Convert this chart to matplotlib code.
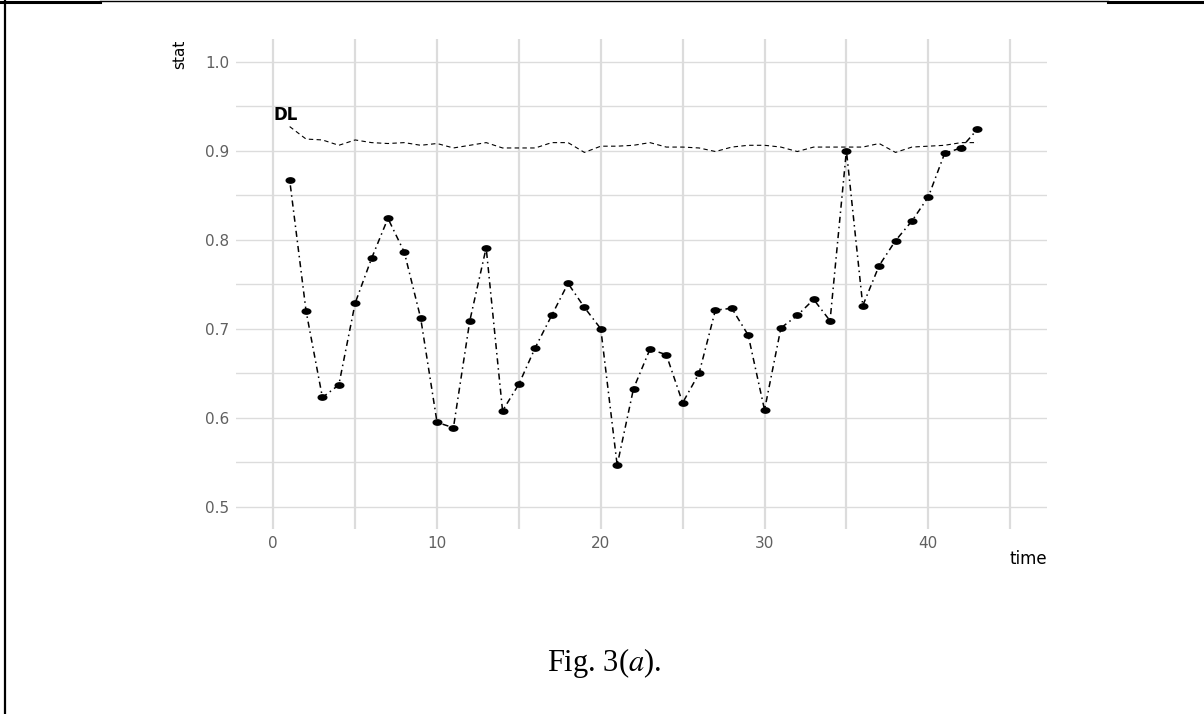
# 관리도 (stat vs time) 와 DL 선
import matplotlib.pyplot as plt
from matplotlib.path import Path
from matplotlib.lines import Line2D
import numpy as np

time = list(range(1, 44))
stat = [0.867, 0.720, 0.623, 0.637, 0.729, 0.779, 0.824, 0.786, 0.712, 0.595,
        0.589, 0.709, 0.791, 0.608, 0.638, 0.679, 0.715, 0.751, 0.724, 0.700,
        0.547, 0.633, 0.677, 0.671, 0.617, 0.650, 0.721, 0.723, 0.693, 0.609,
        0.701, 0.715, 0.733, 0.709, 0.900, 0.726, 0.771, 0.799, 0.821, 0.848,
        0.897, 0.903, 0.924]
dl = [0.927, 0.913, 0.912, 0.906, 0.912, 0.909, 0.908, 0.909, 0.906, 0.908,
      0.903, 0.906, 0.909, 0.903, 0.903, 0.903, 0.909, 0.909, 0.898, 0.905,
      0.905, 0.906, 0.909, 0.904, 0.904, 0.903, 0.899, 0.904, 0.906, 0.906,
      0.904, 0.899, 0.904, 0.904, 0.904, 0.904, 0.908, 0.898, 0.904, 0.905,
      0.906, 0.909, 0.909]
x_ticks = [0, 10, 20, 30, 40]
y_ticks = [0.5, 0.6, 0.7, 0.8, 0.9, 1.0]
y_tick_labels = ['0.5', '0.6', '0.7', '0.8', '0.9', '1.0']

fig = plt.figure(figsize=(12.04, 7.14), dpi=100)
ax = fig.add_axes([0.1964, 0.2587, 0.6732, 0.6863])

# 가로로 늘어난 원 모양 마커
t = np.linspace(0, 2 * np.pi, 40)
ellipse = Path(np.column_stack([np.cos(t), 0.62 * np.sin(t)]), closed=True)

ax.plot(time, dl, color='black', lw=0.8, linestyle=(0, (4, 3)), zorder=3)
ax.plot(time, stat, color='black', lw=1.1, linestyle=(0, (1, 2.5, 4, 2.5)),
        marker=ellipse, markersize=6.2, zorder=4)
ax.text(0, 0.940, 'DL', fontsize=12, fontweight='bold', ha='left', va='center')

ax.set_xlim(-2.25, 47.25)
ax.set_ylim(0.475, 1.025)
ax.set_xticks(x_ticks)
ax.set_xticks(np.arange(5, 50, 10), minor=True)
ax.set_yticks(y_ticks, y_tick_labels)
ax.set_yticks(np.arange(0.55, 1.0, 0.1), minor=True)
ax.grid(True, which='both', axis='x', color='#dcdcdc', lw=1.6)
ax.grid(True, which='both', axis='y', color='#dcdcdc', lw=1.0)
ax.set_axisbelow(True)
for s in ax.spines.values():
    s.set_visible(False)
ax.tick_params(which='both', length=0, labelsize=11, labelcolor='#606060')
ax.tick_params(axis='x', pad=5)
ax.tick_params(axis='y', pad=5)

ax.set_ylabel('stat', fontsize=11, loc='top')
ax.yaxis.set_label_coords(-0.061, 1.0)
ax.set_xlabel('time', fontsize=12, loc='right')
ax.xaxis.set_label_coords(1.0, -0.043)

plt.rcParams['mathtext.fontset'] = 'stix'
fig.text(604 / 1204, 1 - 663 / 714, 'Fig. 3($a$).', family='Liberation Serif',
         fontsize=22, ha='center', va='center')

# 문서 테두리
fig.add_artist(Line2D([0, 100 / 1204], [1 - 1.5 / 714] * 2, color='black', lw=2.2))
fig.add_artist(Line2D([100 / 1204, 1108 / 1204], [1 - 1 / 714] * 2, color='black', lw=1.0))
fig.add_artist(Line2D([1108 / 1204, 1], [1 - 1.5 / 714] * 2, color='black', lw=2.2))
fig.add_artist(Line2D([5 / 1204] * 2, [0, 1], color='black', lw=1.6))

plt.savefig('out.png', dpi=100)
